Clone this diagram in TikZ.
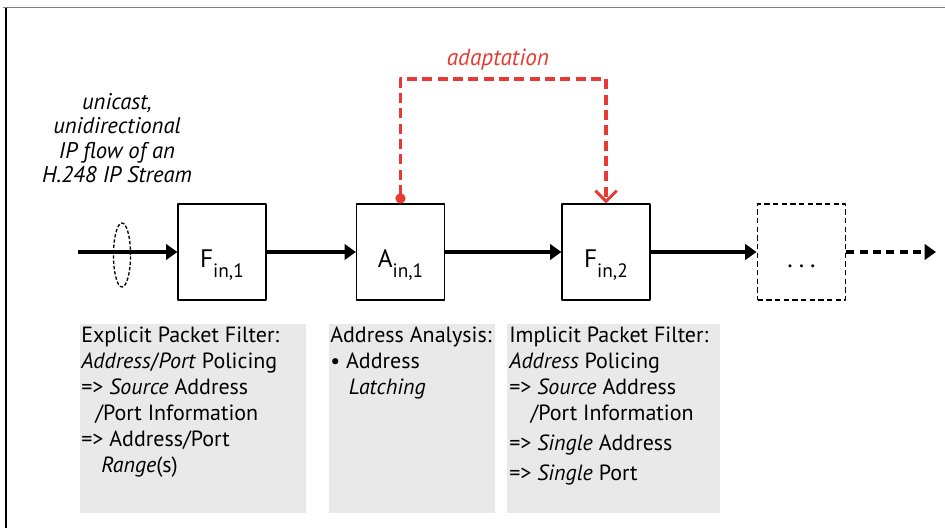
\documentclass[tikz,border=0pt]{standalone}
\usepackage{fontspec}
\setmainfont{PT Sans}
\usetikzlibrary{arrows.meta}
\definecolor{adaptred}{RGB}{230,58,50}
\definecolor{notegray}{RGB}{233,233,233}
\begin{document}
\begin{tikzpicture}[x=0.75pt, y=-0.75pt, font=\fontsize{16.5}{19.5}\selectfont, line join=round, >={Triangle[length=8.5pt,width=11.5pt]},
  block/.style={draw, line width=0.9pt, minimum width=66pt, minimum height=72pt, inner sep=0pt, text height=22.5pt, text depth=0pt, font=\fontsize{19}{20}\selectfont},
  flow/.style={->, line width=2.6pt},
  adapt/.style={adaptred, line width=2.6pt, dash pattern=on 7.5pt off 4pt, {Circle[length=7.5pt]}-{Straight Barb[length=8pt,width=16pt,line width=2.2pt]}},
  notetext/.style={anchor=north west, align=left, inner sep=0pt}]
\useasboundingbox (0,0) rectangle (945,528);
\draw[gray, line width=1.4pt] (3,7.5) -- (945,7.5);
\draw[line width=1pt] (6,8) -- (6,528);
\coordinate (src) at (78,252);
\node[block] (fin1) at (222,252) {F\raisebox{-0.8ex}{\fontsize{14.5}{14}\selectfont in,1}};
\node[block] (ain1) at (400.5,252) {A\raisebox{-0.8ex}{\fontsize{14.5}{14}\selectfont in,1}};
\node[block] (fin2) at (606,252) {F\raisebox{-0.8ex}{\fontsize{14.5}{14}\selectfont in,2}};
\node[block, line width=1.4pt, dash pattern=on 4pt off 2.5pt] (more) at (801.5,252) {.\hspace{4.5pt}.\hspace{4.5pt}.};
\coordinate (out) at (936,252);
\draw[flow] (src) -- (fin1);
\draw[flow] (fin1) -- (ain1);
\draw[flow] (ain1) -- (fin2);
\draw[flow] (fin2) -- (more);
\draw[flow, dash pattern=on 6pt off 4pt] (more) -- (out);
\draw[line width=1pt, dash pattern=on 2.5pt off 1.5pt] (122,255) ellipse [x radius=6.4pt, y radius=24pt];
\draw[adapt] (ain1.north) -- (400.5,79) -| (fin2.north);
\node[adaptred, font=\fontsize{17.5}{20}\selectfont\itshape] (adlabel) at (498,60) {adaptation};
\node[align=center, inner sep=0pt, font=\fontsize{17}{18.4}\selectfont\itshape] (flowlabel) at (117,138) {unicast,\\unidirectional\\IP flow of an\\H.248 IP Stream};
\fill[notegray] (80,324) rectangle (306,513);
\fill[notegray] (329,324) rectangle (495,513);
\fill[notegray] (507,324) rectangle (720,513);
\node[notetext] (expl) at (81,327) {Explicit Packet Filter:\\
  \textit{Address}/\textit{Port} Policing\\
  => \textit{Source} Address\\
  \hspace*{10.5pt}/Port Information\\
  => Address/Port\\
  \hspace*{15pt}\textit{Range}(s)};
\node[notetext] (anal) at (330,327) {Address Analysis:\\
  \textbullet{} Address\\
  \hspace*{14pt}\textit{Latching}};
\node[notetext] (impl) at (509,327) {Implicit Packet Filter:\\
  \textit{Address} Policing\\
  => \textit{Source} Address\\
  \hspace*{16pt}/Port Information\\[3pt]
  => \textit{Single} Address\\[3pt]
  => \textit{Single} Port};
\end{tikzpicture}
\end{document}
